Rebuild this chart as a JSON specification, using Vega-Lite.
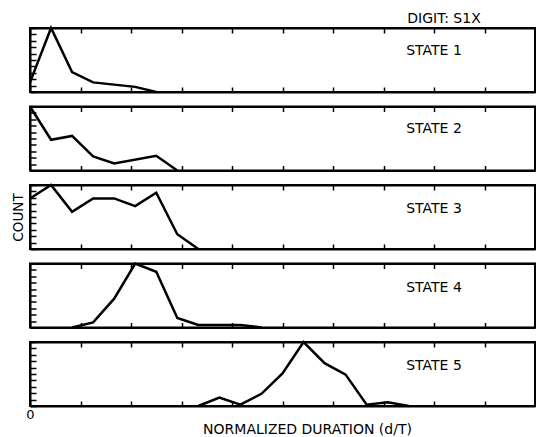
{
  "$schema": "https://vega.github.io/schema/vega-lite/v6.json",
  "padding": {"left": 10, "top": 12, "right": 1, "bottom": 0},
  "background": "white",
  "title": {"text": "DIGIT: S1X", "anchor": "end", "dx": -56, "fontSize": 14, "font": "DejaVu Sans", "fontWeight": "normal", "color": "black", "offset": -4},
  "data": {"values": [
    {"state": "STATE 1", "x": 0, "count": 1.5},
    {"state": "STATE 1", "x": 0.0417, "count": 10},
    {"state": "STATE 1", "x": 0.0833, "count": 3.1},
    {"state": "STATE 1", "x": 0.125, "count": 1.5},
    {"state": "STATE 1", "x": 0.2083, "count": 0.8},
    {"state": "STATE 1", "x": 0.25, "count": 0},
    {"state": "STATE 2", "x": 0, "count": 10},
    {"state": "STATE 2", "x": 0.0417, "count": 4.8},
    {"state": "STATE 2", "x": 0.0833, "count": 5.4},
    {"state": "STATE 2", "x": 0.125, "count": 2.2},
    {"state": "STATE 2", "x": 0.1667, "count": 1.1},
    {"state": "STATE 2", "x": 0.25, "count": 2.3},
    {"state": "STATE 2", "x": 0.2917, "count": 0},
    {"state": "STATE 3", "x": 0, "count": 7.9},
    {"state": "STATE 3", "x": 0.0417, "count": 10},
    {"state": "STATE 3", "x": 0.0833, "count": 5.8},
    {"state": "STATE 3", "x": 0.125, "count": 7.9},
    {"state": "STATE 3", "x": 0.1667, "count": 7.9},
    {"state": "STATE 3", "x": 0.2083, "count": 6.7},
    {"state": "STATE 3", "x": 0.25, "count": 8.8},
    {"state": "STATE 3", "x": 0.2917, "count": 2.3},
    {"state": "STATE 3", "x": 0.3333, "count": 0},
    {"state": "STATE 4", "x": 0.0833, "count": 0},
    {"state": "STATE 4", "x": 0.125, "count": 0.8},
    {"state": "STATE 4", "x": 0.1667, "count": 4.5},
    {"state": "STATE 4", "x": 0.2083, "count": 10},
    {"state": "STATE 4", "x": 0.25, "count": 8.7},
    {"state": "STATE 4", "x": 0.2917, "count": 1.5},
    {"state": "STATE 4", "x": 0.3333, "count": 0.4},
    {"state": "STATE 4", "x": 0.4167, "count": 0.4},
    {"state": "STATE 4", "x": 0.4583, "count": 0},
    {"state": "STATE 5", "x": 0.3333, "count": 0},
    {"state": "STATE 5", "x": 0.375, "count": 1.3},
    {"state": "STATE 5", "x": 0.4167, "count": 0.2},
    {"state": "STATE 5", "x": 0.4583, "count": 1.9},
    {"state": "STATE 5", "x": 0.5, "count": 5.1},
    {"state": "STATE 5", "x": 0.5417, "count": 10},
    {"state": "STATE 5", "x": 0.5833, "count": 6.7},
    {"state": "STATE 5", "x": 0.625, "count": 4.9},
    {"state": "STATE 5", "x": 0.6667, "count": 0.2},
    {"state": "STATE 5", "x": 0.7083, "count": 0.6},
    {"state": "STATE 5", "x": 0.75, "count": 0}
  ]},
  "spacing": 2.5,
  "vconcat": [
    {
      "width": 505, "height": 64,
      "transform": [{"filter": "datum.state == 'STATE 1'"}],
      "layer": [
        {"mark": {"type": "line", "color": "black", "strokeWidth": 2.5, "strokeJoin": "miter"},
         "encoding": {
           "x": {"field": "x", "type": "quantitative", "scale": {"domain": [0, 1]}, "axis": {"orient": "bottom", "title": null, "tickCount": 10}},
           "y": {"field": "count", "type": "quantitative", "scale": {"domain": [0, 10]}, "axis": {"title": null, "tickCount": 10}}}},
        {"mark": {"type": "line", "strokeOpacity": 0},
         "encoding": {
           "x": {"field": "x", "type": "quantitative", "axis": {"orient": "top", "title": null, "tickCount": 10}},
           "y": {"field": "count", "type": "quantitative", "axis": {"title": null, "tickCount": 10}}}},
        {"transform": [{"aggregate": [{"op": "count", "as": "n"}], "groupby": ["state"]}],
         "mark": {"type": "text", "align": "left", "baseline": "middle", "font": "DejaVu Sans", "fontSize": 14, "color": "black"},
         "encoding": {
           "x": {"datum": 0.745, "type": "quantitative", "axis": null},
           "y": {"datum": 6.4, "type": "quantitative", "axis": {"title": null, "tickCount": 10}},
           "text": {"field": "state"}}}
      ],
      "resolve": {"axis": {"x": "independent"}}
    },
    {
      "width": 505, "height": 64,
      "transform": [{"filter": "datum.state == 'STATE 2'"}],
      "layer": [
        {"mark": {"type": "line", "color": "black", "strokeWidth": 2.5, "strokeJoin": "miter"},
         "encoding": {
           "x": {"field": "x", "type": "quantitative", "scale": {"domain": [0, 1]}, "axis": {"orient": "bottom", "title": null, "tickCount": 10}},
           "y": {"field": "count", "type": "quantitative", "scale": {"domain": [0, 10]}, "axis": {"title": null, "tickCount": 10}}}},
        {"mark": {"type": "line", "strokeOpacity": 0},
         "encoding": {
           "x": {"field": "x", "type": "quantitative", "axis": {"orient": "top", "title": null, "tickCount": 10}},
           "y": {"field": "count", "type": "quantitative", "axis": {"title": null, "tickCount": 10}}}},
        {"transform": [{"aggregate": [{"op": "count", "as": "n"}], "groupby": ["state"]}],
         "mark": {"type": "text", "align": "left", "baseline": "middle", "font": "DejaVu Sans", "fontSize": 14, "color": "black"},
         "encoding": {
           "x": {"datum": 0.745, "type": "quantitative", "axis": null},
           "y": {"datum": 6.5, "type": "quantitative", "axis": {"title": null, "tickCount": 10}},
           "text": {"field": "state"}}}
      ],
      "resolve": {"axis": {"x": "independent"}}
    },
    {
      "width": 505, "height": 64,
      "transform": [{"filter": "datum.state == 'STATE 3'"}],
      "layer": [
        {"mark": {"type": "line", "color": "black", "strokeWidth": 2.5, "strokeJoin": "miter"},
         "encoding": {
           "x": {"field": "x", "type": "quantitative", "scale": {"domain": [0, 1]}, "axis": {"orient": "bottom", "title": null, "tickCount": 10}},
           "y": {"field": "count", "type": "quantitative", "scale": {"domain": [0, 10]}, "axis": {"title": "COUNT", "tickCount": 10}}}},
        {"mark": {"type": "line", "strokeOpacity": 0},
         "encoding": {
           "x": {"field": "x", "type": "quantitative", "axis": {"orient": "top", "title": null, "tickCount": 10}},
           "y": {"field": "count", "type": "quantitative", "axis": {"title": "COUNT", "tickCount": 10}}}},
        {"transform": [{"aggregate": [{"op": "count", "as": "n"}], "groupby": ["state"]}],
         "mark": {"type": "text", "align": "left", "baseline": "middle", "font": "DejaVu Sans", "fontSize": 14, "color": "black"},
         "encoding": {
           "x": {"datum": 0.745, "type": "quantitative", "axis": null},
           "y": {"datum": 6.2, "type": "quantitative", "axis": {"title": "COUNT", "tickCount": 10}},
           "text": {"field": "state"}}}
      ],
      "resolve": {"axis": {"x": "independent"}}
    },
    {
      "width": 505, "height": 64,
      "transform": [{"filter": "datum.state == 'STATE 4'"}],
      "layer": [
        {"mark": {"type": "line", "color": "black", "strokeWidth": 2.5, "strokeJoin": "miter"},
         "encoding": {
           "x": {"field": "x", "type": "quantitative", "scale": {"domain": [0, 1]}, "axis": {"orient": "bottom", "title": null, "tickCount": 10}},
           "y": {"field": "count", "type": "quantitative", "scale": {"domain": [0, 10]}, "axis": {"title": null, "tickCount": 10}}}},
        {"mark": {"type": "line", "strokeOpacity": 0},
         "encoding": {
           "x": {"field": "x", "type": "quantitative", "axis": {"orient": "top", "title": null, "tickCount": 10}},
           "y": {"field": "count", "type": "quantitative", "axis": {"title": null, "tickCount": 10}}}},
        {"transform": [{"aggregate": [{"op": "count", "as": "n"}], "groupby": ["state"]}],
         "mark": {"type": "text", "align": "left", "baseline": "middle", "font": "DejaVu Sans", "fontSize": 14, "color": "black"},
         "encoding": {
           "x": {"datum": 0.745, "type": "quantitative", "axis": null},
           "y": {"datum": 6.2, "type": "quantitative", "axis": {"title": null, "tickCount": 10}},
           "text": {"field": "state"}}}
      ],
      "resolve": {"axis": {"x": "independent"}}
    },
    {
      "width": 505, "height": 64,
      "transform": [{"filter": "datum.state == 'STATE 5'"}],
      "layer": [
        {"mark": {"type": "line", "color": "black", "strokeWidth": 2.5, "strokeJoin": "miter"},
         "encoding": {
           "x": {"field": "x", "type": "quantitative", "scale": {"domain": [0, 1]},
                 "axis": {"orient": "bottom", "tickCount": 10, "title": "NORMALIZED DURATION (d/T)", "labels": true, "labelExpr": "datum.value == 0 ? '0' : ''", "labelFont": "DejaVu Sans", "labelFontSize": 13, "labelColor": "black", "labelPadding": 7, "labelAlign": "center", "titleFont": "DejaVu Sans", "titleFontSize": 14, "titleFontWeight": "normal", "titleColor": "black", "titlePadding": 1, "titleX": 277}},
           "y": {"field": "count", "type": "quantitative", "scale": {"domain": [0, 10]}, "axis": {"title": null, "tickCount": 10}}}},
        {"mark": {"type": "line", "strokeOpacity": 0},
         "encoding": {
           "x": {"field": "x", "type": "quantitative", "axis": {"orient": "top", "title": null, "tickCount": 10}},
           "y": {"field": "count", "type": "quantitative", "axis": {"title": null, "tickCount": 10}}}},
        {"transform": [{"aggregate": [{"op": "count", "as": "n"}], "groupby": ["state"]}],
         "mark": {"type": "text", "align": "left", "baseline": "middle", "font": "DejaVu Sans", "fontSize": 14, "color": "black"},
         "encoding": {
           "x": {"datum": 0.745, "type": "quantitative", "axis": null},
           "y": {"datum": 6.2, "type": "quantitative", "axis": {"title": null, "tickCount": 10}},
           "text": {"field": "state"}}}
      ],
      "resolve": {"axis": {"x": "independent"}}
    }
  ],
  "config": {
    "view": {"stroke": "black", "strokeWidth": 2},
    "axis": {"grid": false, "labels": false, "minExtent": 0, "tickSize": -5, "tickColor": "black", "tickWidth": 1.5, "domainColor": "black", "domainWidth": 2, "titleFont": "DejaVu Sans", "titleFontSize": 13.5, "titleFontWeight": "normal", "titleColor": "black", "titlePadding": 4},
    "axisY": {"tickSize": -6}
  }
}
